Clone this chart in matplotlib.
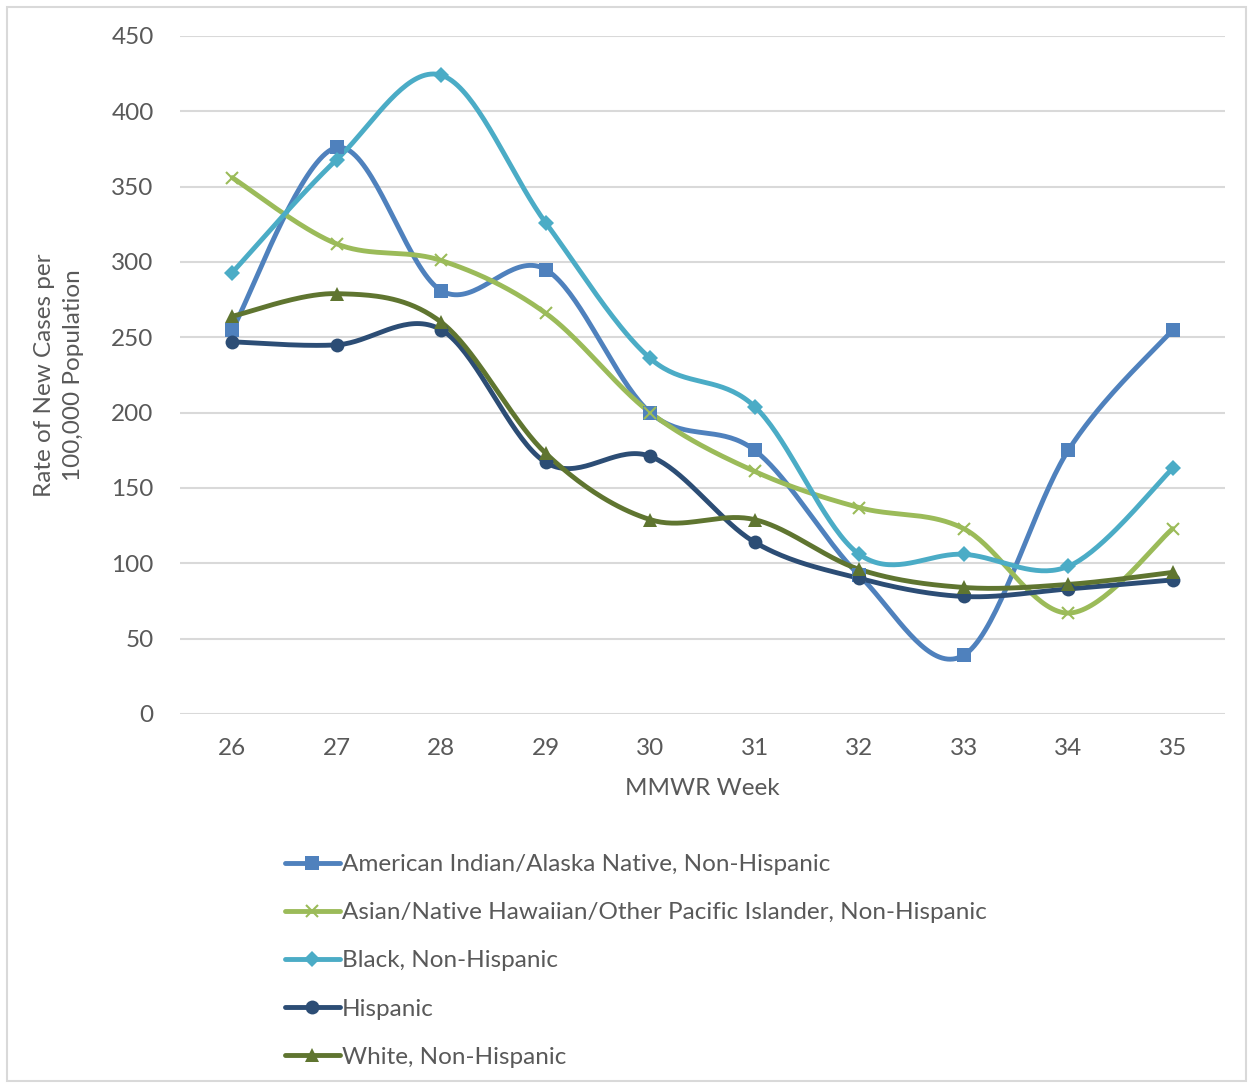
import numpy as np
import matplotlib
matplotlib.use("Agg")
from matplotlib import pyplot as plt
from matplotlib.patches import Rectangle

weeks = [26, 27, 28, 29, 30, 31, 32, 33, 34, 35]

aian = [255, 376, 281, 295, 200, 175, 92, 39, 175, 255]
asian = [356, 312, 301, 266, 200, 161, 137, 123, 67, 123]
black = [293, 368, 424, 326, 236, 204, 106, 106, 98, 163]
hispanic = [247, 245, 255, 167, 171, 114, 90, 78, 83, 89]
white = [264, 279, 260, 173, 129, 129, 96, 84, 86, 94]

labels = ["American Indian/Alaska Native, Non-Hispanic",
          "Asian/Native Hawaiian/Other Pacific Islander, Non-Hispanic",
          "Black, Non-Hispanic",
          "Hispanic",
          "White, Non-Hispanic"]
colors = ["#4F81BD", "#9BBB59", "#4BACC6", "#2C4D75", "#5F7530"]
markers = ["s", "x", "D", "o", "^"]
msizes = [10.5, 9, 8, 10, 10]

GRAY = "#595959"
FS = 17.5
plt.rcParams['font.family'] = ['Lato', 'DejaVu Sans']

# pixel scale of the axes, used so the smoothing looks like Excel's
SX, SY = 104.5, 1.5067


def smooth(xs, ys, n=40):
    px = np.array(xs, float) * SX
    py = np.array(ys, float) * SY
    outx, outy = [px[0]], [py[0]]
    m = len(px)
    for i in range(m - 1):
        p0 = np.array([px[max(i - 1, 0)], py[max(i - 1, 0)]])
        p1 = np.array([px[i], py[i]])
        p2 = np.array([px[i + 1], py[i + 1]])
        p3 = np.array([px[min(i + 2, m - 1)], py[min(i + 2, m - 1)]])
        c1 = p1 + (p2 - p0) / 6
        c2 = p2 - (p3 - p1) / 6
        t = np.linspace(0, 1, n)[1:, None]
        b = ((1 - t) ** 3 * p1 + 3 * (1 - t) ** 2 * t * c1
             + 3 * (1 - t) * t ** 2 * c2 + t ** 3 * p2)
        outx.extend(b[:, 0])
        outy.extend(b[:, 1])
    return np.array(outx) / SX, np.array(outy) / SY


fig = plt.figure(figsize=(12.53, 10.86), dpi=100)
ax = fig.add_axes([180 / 1253, 1 - 714 / 1086, 1045 / 1253, 678 / 1086])

series = [aian, asian, black, hispanic, white]
handles = []
for vals, lab, col, mk, ms in zip(series, labels, colors, markers, msizes):
    sx, sy = smooth(weeks, vals)
    ax.plot(sx, sy, color=col, lw=3.5, solid_capstyle='round', zorder=3)
    mew = 1.5 if mk == "x" else 0
    ax.plot(weeks, vals, ls='none', marker=mk, ms=ms, color=col,
            markeredgewidth=mew, zorder=4)
    h, = ax.plot([], [], color=col, lw=3.5, marker=mk, ms=ms,
                 markeredgewidth=mew, solid_capstyle='round')
    handles.append(h)

ax.set_xlim(25.5, 35.5)
ax.set_ylim(0, 450)
ax.set_yticks(range(0, 451, 50))
ax.set_xticks(weeks)
ax.grid(axis='y', color='#D9D9D9', lw=1.5, zorder=0)
ax.set_axisbelow(True)
for s in ax.spines.values():
    s.set_visible(False)
ax.tick_params(length=0, labelsize=FS, colors=GRAY)
ax.tick_params(axis='x', pad=17)
ax.tick_params(axis='y', pad=19)
ax.set_xlabel("MMWR Week", fontsize=FS, color=GRAY, labelpad=14)
ax.set_ylabel("Rate of New Cases per\n100,000 Population", fontsize=FS,
              color=GRAY, linespacing=1.45)
ax.yaxis.set_label_coords(-0.092, 0.5)

fig.legend(handles=handles, labels=labels, loc='upper left',
           bbox_to_anchor=(285 / 1253, 1 - 854 / 1086), frameon=False,
           fontsize=FS, labelcolor=GRAY, handlelength=2.26,
           handletextpad=0.08, labelspacing=1.12,
           borderpad=0, borderaxespad=0)

fig.patches.append(Rectangle((7 / 1253, 5 / 1086), 1239 / 1253, 1074 / 1086,
                             transform=fig.transFigure, fill=False,
                             edgecolor='#D9D9D9', lw=1.5))

fig.savefig("out.png", dpi=100)
